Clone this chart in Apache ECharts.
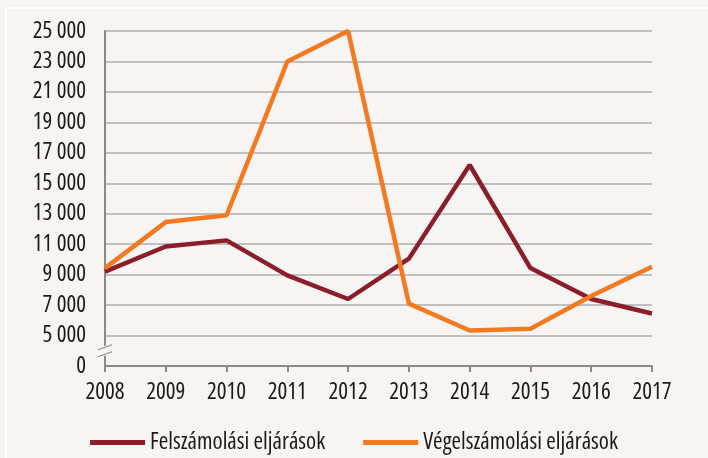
<!DOCTYPE html>
<html>
<head>
<meta charset="utf-8">
<script src="https://cdn.jsdelivr.net/npm/echarts@6/dist/echarts.min.js"></script>
<style>
html,body{margin:0;padding:0;background:#f6f5f3;}
#c{width:708px;height:458px;}
</style>
</head>
<body>
<div id="c"></div>
<script>
const years = ['2008','2009','2010','2011','2012','2013','2014','2015','2016','2017'];
const felszamolasi = [9200, 10850, 11250, 8950, 7400, 10050, 16200, 9430, 7400, 6450];
const vegelszamolasi = [9430, 12450, 12900, 23000, 25000, 7100, 5330, 5440, 7600, 9520];
const seriesNames = ['Felszámolási eljárások', 'Végelszámolási eljárások'];
// axis broken between 0 and 5 000: the lowest tick (3 000 slot) is labelled "0"
const axisBase = 3000;

const font = '"Open Sans", "Liberation Sans", sans-serif';
const fstyle = 'condensed';
const chart = echarts.init(document.getElementById('c'), null, {renderer: 'canvas'});
const option = {
  backgroundColor: '#f6f5f3',
  animation: false,
  grid: {left: 105, right: 56, top: 31, bottom: 92, containLabel: false},
  legend: {
    top: 426,
    left: 'center',
    icon: 'rect',
    itemWidth: 55,
    itemHeight: 5,
    itemGap: 38,
    textStyle: {fontFamily: font, fontStyle: fstyle, fontSize: 23, color: '#1a1a1a'},
    data: seriesNames
  },
  xAxis: {
    type: 'category',
    data: years,
    boundaryGap: false,
    axisLine: {lineStyle: {color: '#8a8a8a', width: 2}},
    axisTick: {show: true, length: 6, lineStyle: {color: '#8a8a8a', width: 2}},
    axisLabel: {fontFamily: font, fontStyle: fstyle, fontSize: 23, color: '#1a1a1a', margin: 15},
    splitLine: {show: false}
  },
  yAxis: {
    type: 'value',
    min: axisBase,
    max: 25000,
    interval: 2000,
    axisLine: {show: true, lineStyle: {color: '#8a8a8a', width: 2}},
    axisTick: {show: false},
    axisLabel: {
      fontFamily: font, fontStyle: fstyle, fontSize: 23, color: '#1a1a1a', margin: 19,
      formatter: function (v) {
        if (v === axisBase) return '0';
        return String(v).replace(/\B(?=(\d{3})+(?!\d))/g, ' ');
      }
    },
    splitLine: {lineStyle: {color: '#c0c0c0', width: 2}}
  },
  series: [
    {name: seriesNames[0], type: 'line', data: felszamolasi, symbol: 'none',
     lineStyle: {color: '#8c1d2a', width: 4.5}, itemStyle: {color: '#8c1d2a'}},
    {name: seriesNames[1], type: 'line', data: vegelszamolasi, symbol: 'none',
     lineStyle: {color: '#f47a22', width: 4.5}, itemStyle: {color: '#f47a22'}}
  ]
};
chart.setOption(option);

// decorations: white frame lines and axis break marks
const p0 = chart.convertToPixel({gridIndex: 0}, [0, axisBase]);
const p5 = chart.convertToPixel({gridIndex: 0}, [0, 5000]);
const midY = (p0[1] + p5[1]) / 2;
chart.setOption({
  graphic: [
    {type: 'line', shape: {x1: 6, y1: 8, x2: 708, y2: 8}, style: {stroke: '#ffffff', lineWidth: 2}, silent: true},
    {type: 'line', shape: {x1: 6, y1: 8, x2: 6, y2: 458}, style: {stroke: '#ffffff', lineWidth: 2}, silent: true},
    {type: 'rect', shape: {x: p0[0] - 8, y: midY - 5, width: 16, height: 10}, style: {fill: '#f6f5f3'}, z: 100, silent: true},
    {type: 'line', shape: {x1: p0[0] - 7, y1: midY - 1, x2: p0[0] + 7, y2: midY - 6}, style: {stroke: '#8a8a8a', lineWidth: 1.2}, z: 101, silent: true},
    {type: 'line', shape: {x1: p0[0] - 7, y1: midY + 6, x2: p0[0] + 7, y2: midY + 1}, style: {stroke: '#8a8a8a', lineWidth: 1.2}, z: 101, silent: true}
  ]
});
</script>
</body>
</html>
